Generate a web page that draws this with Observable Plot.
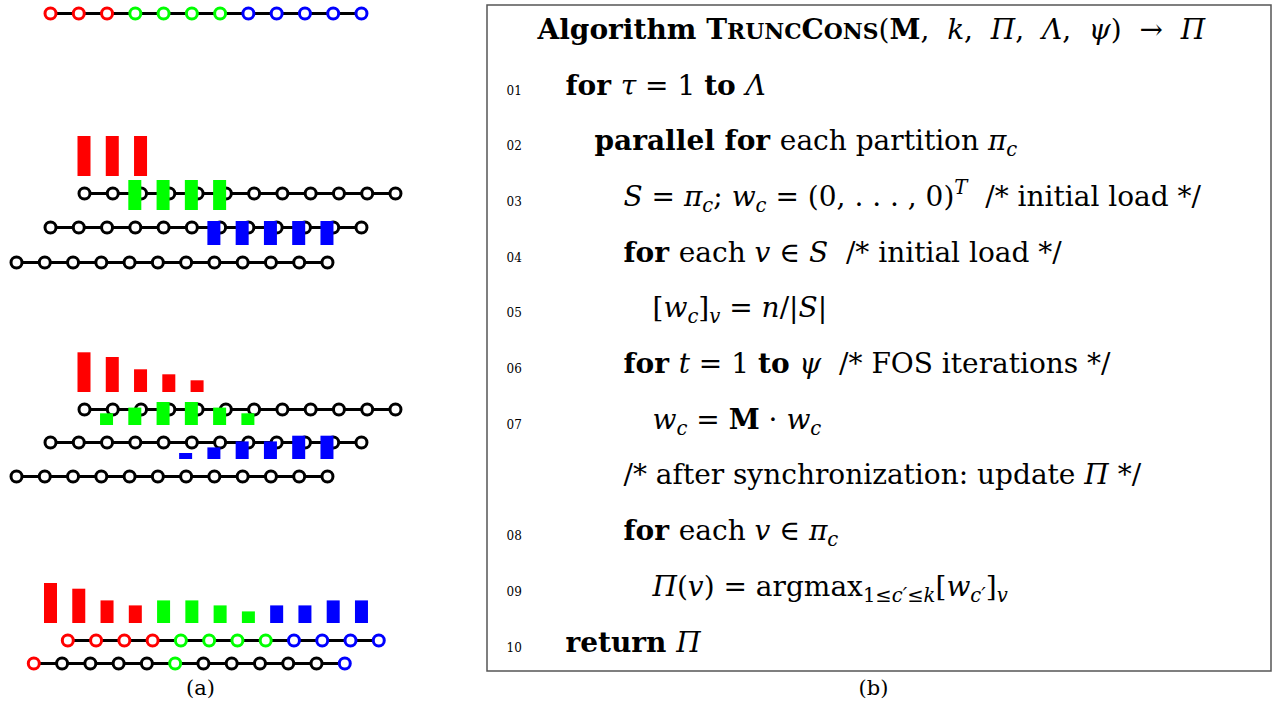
<!DOCTYPE html>
<html>
<head>
<meta charset="utf-8">
<script src="https://cdn.jsdelivr.net/npm/d3@7"></script>
<script src="https://cdn.jsdelivr.net/npm/@observablehq/plot@0.6"></script>
<style>
  html, body { margin: 0; padding: 0; background: #fff; }
</style>
</head>
<body>
<div id="chart"></div>
<script>
// ---------------- DATA ----------------
// Graph layers (panel a): each row is a path of 12 nodes.
const rowStartX = [50, 84, 50, 16, 84, 50, 16, 67.3, 33.3];
const rowY      = [13, 193, 227, 262, 409, 442, 476, 640, 663];
// node colour codes per row: r = red, g = green, b = blue, k = black
const rowColors = [
  "rrrggggbbbbb",
  "kkkkkkkkkkkk", "kkkkkkkkkkkk", "kkkkkkkkkkkk",
  "kkkkkkkkkkkk", "kkkkkkkkkkkk", "kkkkkkkkkkkk",
  "rrrrggggbbbb",
  "rkkkkgkkkkkb"
];

// Load values (bars)
const loadInitialRed   = [4, 4, 4];
const loadInitialGreen = [3, 3, 3, 3];
const loadInitialBlue  = [2.4, 2.4, 2.4, 2.4, 2.4];
const loadFosRed   = [3.97, 3.5, 2.27, 1.77, 1.17];
const loadFosGreen = [1.17, 1.74, 2.3, 2.3, 1.74, 1.17];
const loadFosBlue  = [0.6, 1.16, 1.76, 1.76, 2.33, 2.33];
const loadFinal       = [4.0, 3.43, 2.26, 1.76, 2.26, 2.26, 1.76, 1.16, 1.76, 1.76, 2.26, 2.26];
const loadFinalColors = "rrrrggggbbbb";

// bar groups: which row they stand on, first node index, x shift
const barGroups = [
  {values: loadInitialRed,   colors: "rrr",    row: 1, first: 0, dx: 0},
  {values: loadInitialGreen, colors: "gggg",   row: 2, first: 3, dx: 0},
  {values: loadInitialBlue,  colors: "bbbbb",  row: 3, first: 7, dx: 0},
  {values: loadFosRed,       colors: "rrrrr",  row: 4, first: 0, dx: 0},
  {values: loadFosGreen,     colors: "gggggg", row: 5, first: 2, dx: 0},
  {values: loadFosBlue,      colors: "bbbbbb", row: 6, first: 6, dx: 0},
  {values: loadFinal,        colors: loadFinalColors, row: 7, first: 0, dx: -16.8}
];

// Algorithm text (panel b): tokens [style, text]
const titleTokens = [["b","Algorithm "],["b","T"],["sc","RUNC"],["b","C"],["sc","ONS"],["r","("],["b","M"],["r",",  "],["i","k"],["r",",  "],["i","Π"],["r",",  "],["i","Λ"],["r",",  "],["i","ψ"],["r",")  →  "],["i","Π"]];
const lineNumbers = ["01","02","03","04","05","06","07","","08","09","10"];
const lineIndents = [1, 2, 3, 3, 4, 3, 4, 3, 3, 4, 1];
const lineTokens = [
  [["b","for "],["i","τ"],["r"," = 1 "],["b","to "],["i","Λ"]],
  [["b","parallel for "],["r","each partition "],["i","π"],["sub","c"]],
  [["i","S"],["r"," = "],["i","π"],["sub","c"],["r","; "],["i","w"],["sub","c"],["r"," = (0, . . . , 0)"],["sup","T"],["r","  /* initial load */"]],
  [["b","for "],["r","each "],["i","v"],["r"," ∈ "],["i","S"],["r","  /* initial load */"]],
  [["r","["],["i","w"],["sub","c"],["r","]"],["sub","v"],["r"," = "],["i","n"],["r","/|"],["i","S"],["r","|"]],
  [["b","for "],["i","t"],["r"," = 1 "],["b","to "],["i","ψ"],["r","  /* FOS iterations */"]],
  [["i","w"],["sub","c"],["r"," = "],["b","M"],["r"," · "],["i","w"],["sub","c"]],
  [["r","/* after synchronization: update "],["i","Π"],["r"," */"]],
  [["b","for "],["r","each "],["i","v"],["r"," ∈ "],["i","π"],["sub","c"]],
  [["i","Π"],["r","("],["i","v"],["r",") = argmax"],["subr","1≤"],["sub","c′"],["subr","≤"],["sub","k"],["r","["],["i","w"],["sub","c′"],["r","]"],["sub","v"]],
  [["b","return "],["i","Π"]]
];
const captions = ["(a)", "(b)"];

// ---------------- LAYOUT ----------------
const W = 1278, H = 702;
const SPACING = 28.27, NODE_R = 5.5, BAR_W = 13, BAR_UNIT = 10, BAR_LIFT = 17;
const colorMap = {r: "#ff0000", g: "#00ff00", b: "#0000ff", k: "#000000"};
const FONT = "DejaVu Serif";
const F = 28;

const rows = rowStartX.map((x0, i) => ({x1: x0, x2: x0 + SPACING * 11, y: rowY[i]}));
const nodes = rows.flatMap((r, i) => rowColors[i].split("").map((c, j) => ({
  x: r.x1 + j * SPACING, y: r.y, stroke: colorMap[c]
})));
const bars = barGroups.flatMap(g => g.values.map((v, j) => {
  const r = rows[g.row];
  const cx = r.x1 + (g.first + j) * SPACING + g.dx;
  const base = r.y - BAR_LIFT;
  return {x1: cx - BAR_W / 2, x2: cx + BAR_W / 2, y1: base - v * BAR_UNIT, y2: base, fill: colorMap[g.colors[j]]};
}));

// text measurement
const ctx = document.createElement("canvas").getContext("2d");
const styleDefs = {
  r:    {weight: "normal", style: "normal", size: 1,    dy: 0},
  b:    {weight: "bold",   style: "normal", size: 1,    dy: 0},
  i:    {weight: "normal", style: "italic", size: 1,    dy: 0},
  sc:   {weight: "bold",   style: "normal", size: 0.78, dy: 0},
  sub:  {weight: "normal", style: "italic", size: 0.7,  dy: 0.22},
  subr: {weight: "normal", style: "normal", size: 0.7,  dy: 0.22},
  sup:  {weight: "normal", style: "italic", size: 0.7,  dy: -0.42}
};
function measure(text, sd, size) {
  ctx.font = `${sd.style} ${sd.weight} ${size}px "${FONT}"`;
  return ctx.measureText(text).width;
}
const segments = [];
function layoutLine(tokens, x0, baseline) {
  let x = x0;
  for (const [st, raw] of tokens) {
    const sd = styleDefs[st];
    const size = F * sd.size;
    const text = raw.replace(/ /g, "\u00a0");
    segments.push({x, y: baseline + sd.dy * F, text, size, weight: sd.weight, fstyle: sd.style});
    x += measure(text, sd, size);
  }
}
const TITLE_X = 537, TITLE_BASE = 38;
const FIRST_BASE = 94, LINE_GAP = 55.7;
const INDENT_X0 = 536, INDENT_STEP = 29;
const NUM_X = 506;
layoutLine(titleTokens, TITLE_X, TITLE_BASE);
const numberLabels = [];
lineTokens.forEach((tokens, k) => {
  const base = FIRST_BASE + k * LINE_GAP;
  layoutLine(tokens, INDENT_X0 + lineIndents[k] * INDENT_STEP, base);
  if (lineNumbers[k]) numberLabels.push({x: NUM_X, y: base, text: lineNumbers[k]});
});
const captionLabels = [{x: 200, y: 694, text: captions[0]}, {x: 873, y: 694, text: captions[1]}];
const box = [{x1: 487, x2: 1271, y1: 5, y2: 671}];

function textMark(weight, fstyle) {
  return Plot.text(segments.filter(s => s.weight === weight && s.fstyle === fstyle), {
    x: "x", y: "y", text: "text", fontSize: "size",
    textAnchor: "start", lineAnchor: "bottom",
    fontFamily: FONT, fontWeight: weight, fontStyle: fstyle, fill: "black"
  });
}

const chart = Plot.plot({
  width: W, height: H, margin: 0,
  x: {domain: [0, W], range: [0, W], axis: null},
  y: {domain: [0, H], range: [0, H], axis: null},
  color: {type: "identity"},
  style: {background: "white"},
  marks: [
    Plot.rect(box, {x1: "x1", x2: "x2", y1: "y1", y2: "y2", fill: "none", stroke: "#555", strokeWidth: 1.5}),
    Plot.link(rows, {x1: "x1", x2: "x2", y1: "y", y2: "y", stroke: "black", strokeWidth: 3}),
    Plot.dot(nodes, {x: "x", y: "y", r: NODE_R, stroke: "stroke", fill: "white", strokeWidth: 3}),
    Plot.rect(bars, {x1: "x1", x2: "x2", y1: "y1", y2: "y2", fill: "fill"}),
    textMark("normal", "normal"),
    textMark("bold", "normal"),
    textMark("normal", "italic"),
    Plot.text(numberLabels, {x: "x", y: "y", text: "text", fontSize: 12, textAnchor: "start", lineAnchor: "bottom", fontFamily: FONT, fill: "black"}),
    Plot.text(captionLabels, {x: "x", y: "y", text: "text", fontSize: 21, textAnchor: "middle", lineAnchor: "bottom", fontFamily: FONT, fill: "black"})
  ]
});
document.getElementById("chart").appendChild(chart);
</script>
</body>
</html>
